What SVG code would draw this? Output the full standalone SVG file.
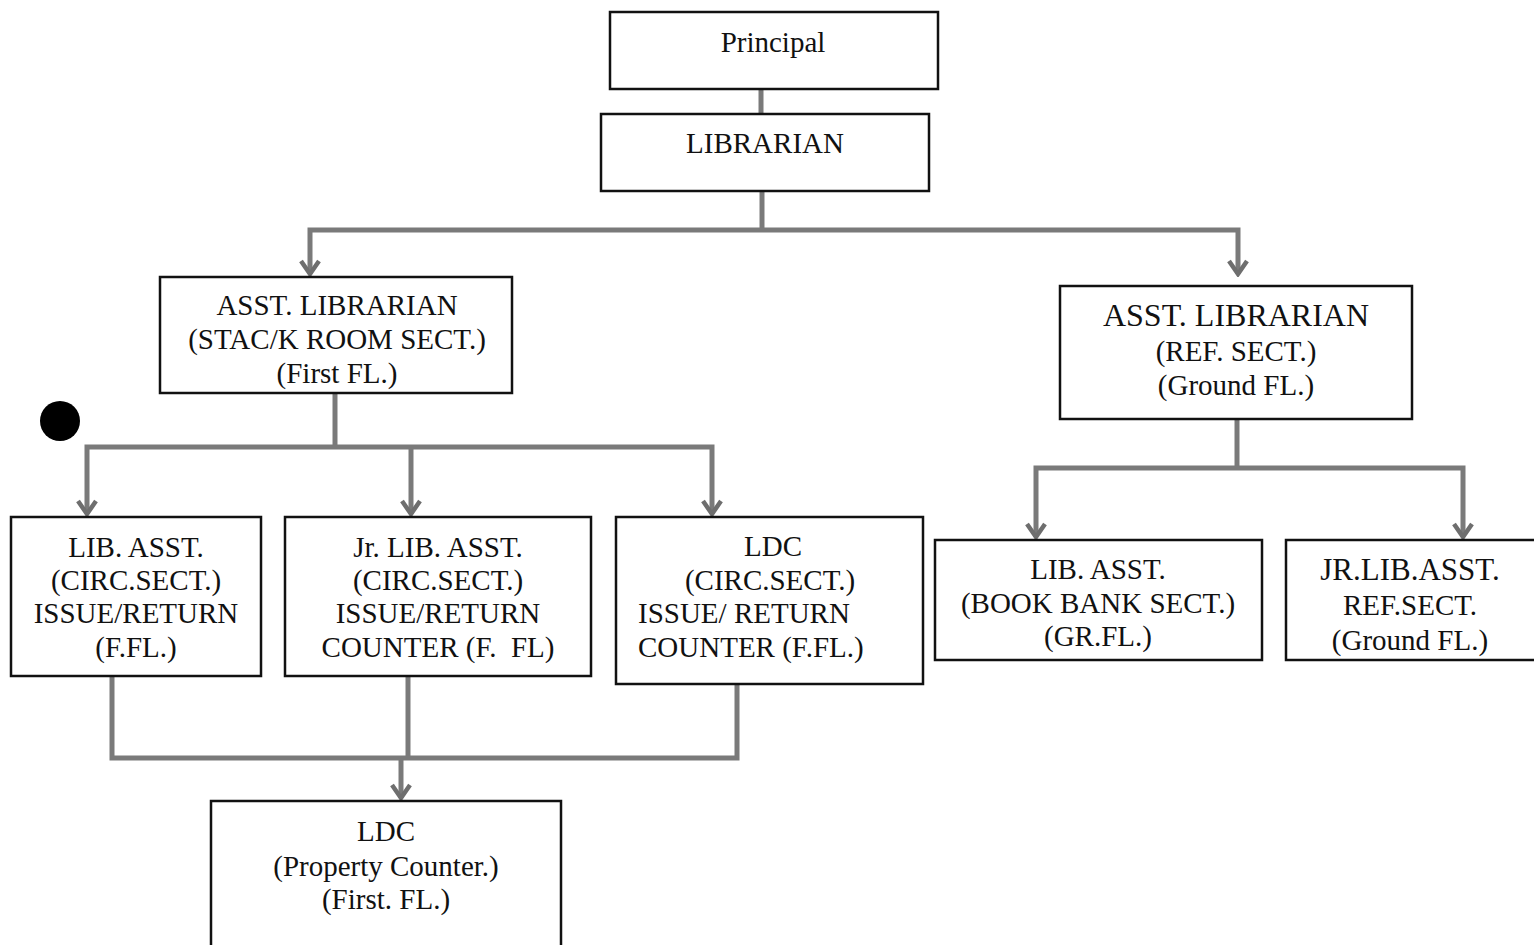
<svg xmlns="http://www.w3.org/2000/svg" width="1534" height="945" viewBox="0 0 1534 945">
<style>
.box{fill:#fff;stroke:#111;stroke-width:2.5}
.t{font-family:"Liberation Serif","Times New Roman",serif;font-size:29px;fill:#111;text-anchor:middle}
.tl{font-family:"Liberation Serif","Times New Roman",serif;font-size:29px;fill:#111}
.c{fill:none;stroke:#7a7a7a;stroke-width:5}
</style>
<defs>
<marker id="ah" viewBox="0 0 22 22" refX="19" refY="11" markerWidth="22" markerHeight="22" markerUnits="userSpaceOnUse" orient="auto-start-reverse">
<path d="M6,2 L19,11 L6,20" fill="none" stroke="#6e6e6e" stroke-width="4.5" stroke-linejoin="miter"/>
</marker>
</defs>
<rect width="1534" height="945" fill="#fff"/>
<g id="connectors">
<path class="c" d="M761,89 V114"/>
<path class="c" d="M762,191 V230"/>
<path class="c" d="M310,274 V230 H1238 V274" marker-start="url(#ah)" marker-end="url(#ah)"/>
<path class="c" d="M335,393 V447"/>
<path class="c" d="M87,514 V447 H712 V514" marker-start="url(#ah)" marker-end="url(#ah)"/>
<path class="c" d="M411,447 V514" marker-end="url(#ah)"/>
<path class="c" d="M1237,419 V468"/>
<path class="c" d="M1036,537 V468 H1463 V537" marker-start="url(#ah)" marker-end="url(#ah)"/>
<path class="c" d="M112,676 V758 H737 V684"/>
<path class="c" d="M408,676 V758"/>
<path class="c" d="M401,758 V798" marker-end="url(#ah)"/>
</g>
<g id="principal">
<rect class="box" x="610" y="12" width="328" height="77"/>
<text class="t" x="773" y="52">Principal</text>
</g>
<g id="librarian">
<rect class="box" x="601" y="114" width="328" height="77"/>
<text class="t" x="765" y="153">LIBRARIAN</text>
</g>
<g id="asst-lib-stack">
<rect class="box" x="160" y="277" width="352" height="116"/>
<text class="t" x="337" y="315">ASST. LIBRARIAN</text>
<text class="t" x="337" y="349">(STAC/K ROOM SECT.)</text>
<text class="t" x="337" y="383">(First FL.)</text>
</g>
<g id="asst-lib-ref">
<rect class="box" x="1060" y="286" width="352" height="133"/>
<text class="t" x="1236" y="326" style="font-size:32px">ASST. LIBRARIAN</text>
<text class="t" x="1236" y="361">(REF. SECT.)</text>
<text class="t" x="1236" y="395">(Ground FL.)</text>
</g>
<g id="marker-dot">
<circle cx="60" cy="421" r="20" fill="#000"/>
</g>
<g id="lib-asst-circ">
<rect class="box" x="11" y="517" width="250" height="159"/>
<text class="t" x="136" y="557">LIB. ASST.</text>
<text class="t" x="136" y="590">(CIRC.SECT.)</text>
<text class="t" x="136" y="623">ISSUE/RETURN</text>
<text class="t" x="136" y="657">(F.FL.)</text>
</g>
<g id="jr-lib-asst-circ">
<rect class="box" x="285" y="517" width="306" height="159"/>
<text class="t" x="438" y="557">Jr. LIB. ASST.</text>
<text class="t" x="438" y="590">(CIRC.SECT.)</text>
<text class="t" x="438" y="623">ISSUE/RETURN</text>
<text class="t" x="438" y="657" xml:space="preserve">COUNTER (F.  FL)</text>
</g>
<g id="ldc-circ">
<rect class="box" x="616" y="517" width="307" height="167"/>
<text class="t" x="773" y="556">LDC</text>
<text class="t" x="770" y="590">(CIRC.SECT.)</text>
<text class="tl" x="638" y="623">ISSUE/ RETURN</text>
<text class="tl" x="638" y="657">COUNTER (F.FL.)</text>
</g>
<g id="lib-asst-bookbank">
<rect class="box" x="935" y="540" width="327" height="120"/>
<text class="t" x="1098" y="579">LIB. ASST.</text>
<text class="t" x="1098" y="613">(BOOK BANK SECT.)</text>
<text class="t" x="1098" y="646">(GR.FL.)</text>
</g>
<g id="jr-lib-asst-ref">
<rect class="box" x="1286" y="540" width="260" height="120"/>
<text class="t" x="1410" y="580" style="font-size:31px">JR.LIB.ASST.</text>
<text class="t" x="1410" y="615">REF.SECT.</text>
<text class="t" x="1410" y="650">(Ground FL.)</text>
</g>
<g id="ldc-property">
<rect class="box" x="211" y="801" width="350" height="150"/>
<text class="t" x="386" y="841">LDC</text>
<text class="t" x="386" y="876">(Property Counter.)</text>
<text class="t" x="386" y="909">(First. FL.)</text>
</g>
</svg>
